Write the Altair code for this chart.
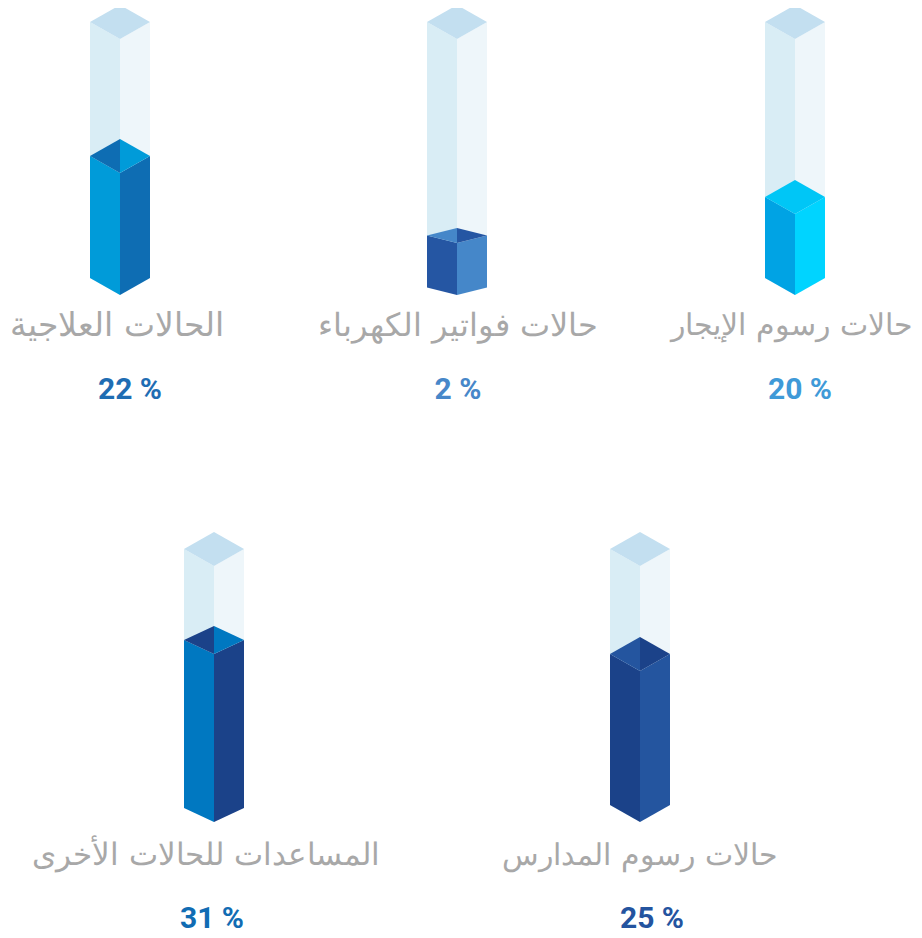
import altair as alt
import pandas as pd

names = ["حالات رسوم الإيجار", "حالات فواتير الكهرباء", "الحالات العلاجية",
         "حالات رسوم المدارس", "المساعدات للحالات الأخرى"]
percents = [20, 2, 22, 25, 31]
levels = [81, 52, 122, 151, 168]
pct_colors = ["#3f9ad8", "#4787c9", "#1f6db3", "#24549f", "#116cb3"]
left_c = ["#00a3e4", "#2556a3", "#009bd9", "#1b4289", "#0078c1"]
right_c = ["#00d4ff", "#4587c9", "#0e6db3", "#24559f", "#1b4289"]
topl_c = ["#00c6f6", "#4587c9", "#0e6db3", "#24559f", "#1b4289"]
topr_c = ["#00c6f6", "#2556a3", "#009bd9", "#1b4289", "#0078c1"]

centers = [795, 457, 120, 640, 214]
bases = [295, 295, 295, 822, 822]
caps = [17, 7.5, 17, 17, 14]
label_x = [792, 458, 117, 640, 206]
label_y = [326, 326, 326, 856, 856]
label_size = [30, 32, 32.5, 30, 31]
pct_x = [800, 458, 130, 652, 212]
pct_y = [390, 390, 390, 919, 919]
HALF = 30
COLUMN = 256
GHOST_L, GHOST_R, GHOST_T = "#d9edf5", "#eef6fa", "#c3dff0"


def prism(rows, pid, cx, base, level, cap, cl, cr, ctl, ctr):
    front = base - level
    side = front - cap
    apex = side - cap
    bside = base - cap
    faces = [
        ("L", cl, cx - HALF, side, bside, cx, front, base),
        ("R", cr, cx, front, base, cx + HALF, side, bside),
        ("TL", ctl, cx - HALF, side, side, cx, apex, front),
        ("TR", ctr, cx, apex, front, cx + HALF, side, side),
    ]
    for key, colour, x1, y1a, y1b, x2, y2a, y2b in faces:
        fid = f"{pid}-{key}"
        rows.append(dict(id=fid, c=colour, x=x1, y=y1a, y2=y1b))
        rows.append(dict(id=fid, c=colour, x=x2, y=y2a, y2=y2b))


ghost_rows, fill_rows = [], []
for i in range(len(names)):
    prism(ghost_rows, f"g{i}", centers[i], bases[i], COLUMN, 17,
          GHOST_L, GHOST_R, GHOST_T, GHOST_T)
    prism(fill_rows, f"f{i}", centers[i], bases[i], levels[i], caps[i],
          left_c[i], right_c[i], topl_c[i], topr_c[i])

labels = pd.DataFrame({
    "name": names,
    "pct": [f"{p} %" for p in percents],
    "c": pct_colors,
    "x": label_x,
    "y": label_y,
    "s": label_size,
    "px": pct_x,
    "py": pct_y,
})

xs = alt.Scale(domain=[8, 914], nice=False, zero=False)
ys = alt.Scale(domain=[930, 8], nice=False, zero=False)
X = alt.X("x:Q", scale=xs, axis=None)
Y = alt.Y("y:Q", scale=ys, axis=None)


def faces(rows):
    return alt.Chart(pd.DataFrame(rows)).mark_area(
        interpolate="linear", strokeWidth=0, opacity=1
    ).encode(
        x=X, y=Y, y2="y2:Q",
        color=alt.Color("c:N", scale=None),
        detail="id:N",
    )


name_text = alt.Chart(labels).mark_text(
    font="DejaVu Sans", fontWeight=200, color="#a8a8a8",
    align="center", baseline="middle",
).encode(x=X, y=Y, text="name:N", size=alt.Size("s:Q", scale=None))

pct_text = alt.Chart(labels).mark_text(
    font="Roboto", fontSize=30, fontWeight=700,
    align="center", baseline="middle",
).encode(
    x=alt.X("px:Q", scale=xs, axis=None),
    y=alt.Y("py:Q", scale=ys, axis=None),
    text="pct:N",
    color=alt.Color("c:N", scale=None),
)

chart = alt.layer(faces(ghost_rows), faces(fill_rows), name_text, pct_text).properties(
    width=906, height=922, background="white",
    padding=0,
    autosize=alt.AutoSizeParams(type="none"),
).configure_view(stroke=None)

chart.save("out.html", embed_options={"renderer": "svg", "actions": False})
